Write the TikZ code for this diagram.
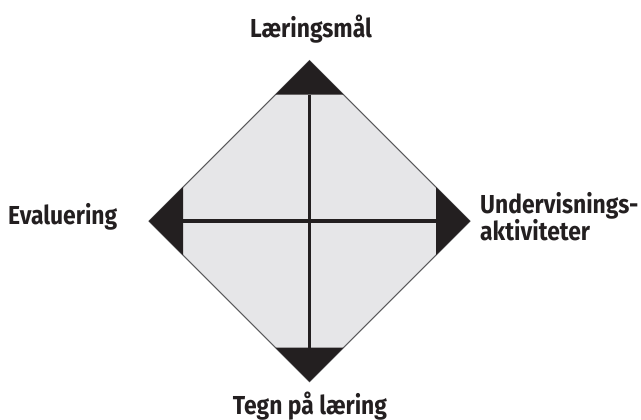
\documentclass[tikz,border=0pt]{standalone}
\usepackage{fontspec}
\setmainfont[FakeStretch=0.88]{Fira Sans}
\definecolor{ink}{RGB}{35,31,32}
\definecolor{fillgray}{RGB}{230,230,232}
\definecolor{edgegray}{RGB}{90,90,92}
\begin{document}
\begin{tikzpicture}[x=1pt,y=-1pt,
  lbl/.style={font=\fontsize{26}{27}\selectfont\bfseries, text=ink, inner sep=0pt},
  cornertri/.style={fill=ink},
  axisline/.style={draw=ink, line width=3.5pt},
  rim/.style={draw=edgegray, line width=1pt, fill=fillgray}]
\useasboundingbox (0,0) rectangle (641,420);
% diamond vertices
\coordinate (T) at (309.5,60.7);
\coordinate (B) at (309.5,381.7);
\coordinate (L) at (149,221.2);
\coordinate (R) at (470,221.2);
% triangle bases
\coordinate (Tb) at (309.5,94.7);
\coordinate (Tl) at (275.5,94.7);
\coordinate (Tr) at (343.5,94.7);
\coordinate (Bb) at (309.5,347.7);
\coordinate (Bl) at (275.5,347.7);
\coordinate (Br) at (343.5,347.7);
\coordinate (Lb) at (183,221.2);
\coordinate (Lt) at (183,187.2);
\coordinate (Ld) at (183,255.2);
\coordinate (Rb) at (436,221.2);
\coordinate (Rt) at (436,187.2);
\coordinate (Rd) at (436,255.2);
\path[rim] (T) -- (R) -- (B) -- (L) -- cycle;
\fill[cornertri] (T) -- (Tl) -- (Tr) -- cycle;
\fill[cornertri] (B) -- (Bl) -- (Br) -- cycle;
\fill[cornertri] (L) -- (Lt) -- (Ld) -- cycle;
\fill[cornertri] (R) -- (Rt) -- (Rd) -- cycle;
\draw[axisline] (Tb) -- (Bb);
\draw[axisline] (Lb) -- (Rb);
% labels
\node[lbl, anchor=base] (goal) at (311,38) {Læringsmål};
\node[lbl, anchor=base west] (eval) at (8,224) {Evaluering};
\node[lbl, anchor=base west] (act1) at (480,213.3) {Undervisnings-};
\node[lbl, anchor=base west] (act2) at (480,240.7) {aktiviteter};
\node[lbl, anchor=base] (sign) at (310,414) {Tegn på læring};
\end{tikzpicture}
\end{document}
